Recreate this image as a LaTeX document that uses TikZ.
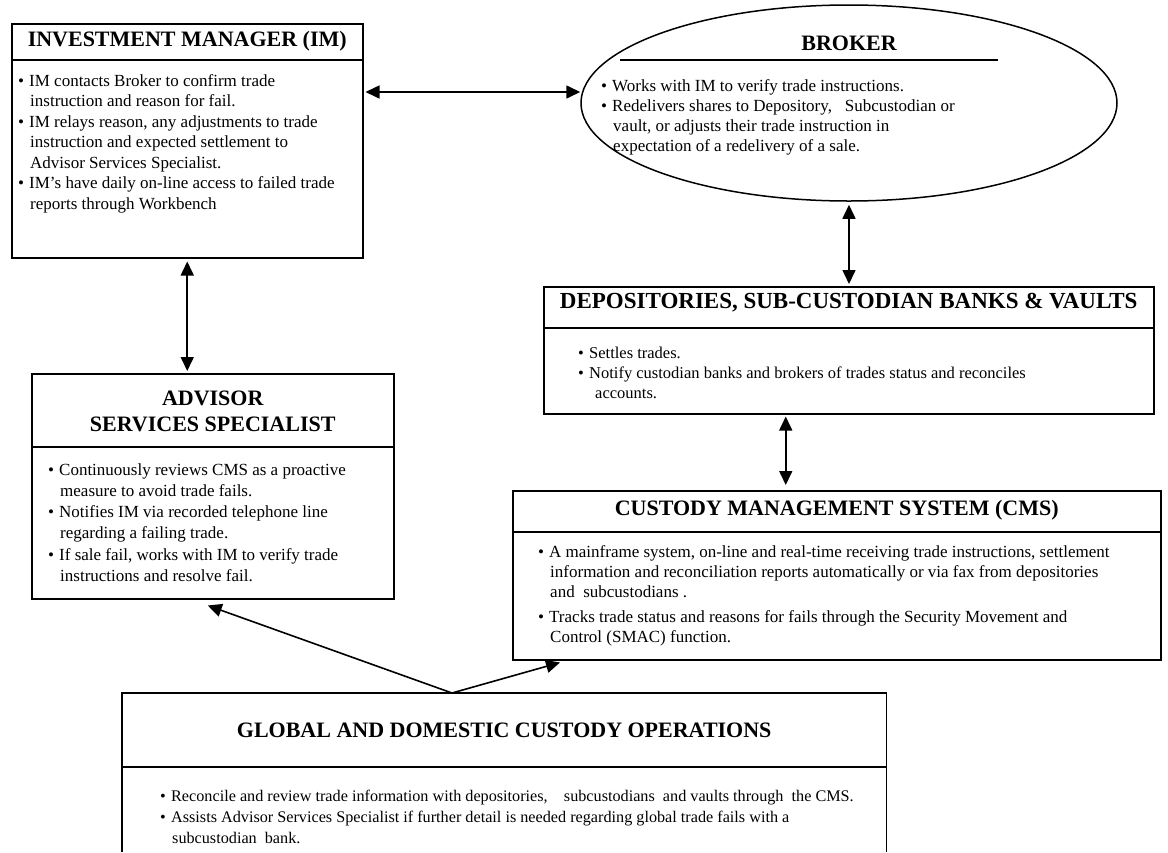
\documentclass[tikz,border=0pt]{standalone}
\usepackage{fontspec}
\setmainfont{Liberation Serif}
\usetikzlibrary{arrows.meta,shapes.geometric,calc}

% bullet followed by its text, and the indent of a continued line
\newcommand{\bl}{\makebox[11pt][l]{\textbullet}}
\newcommand{\cl}{\hspace*{12pt}}

\begin{document}
\begin{tikzpicture}[x=1pt,y=-1pt,
  panel/.style={draw,line width=1.5pt,inner sep=0pt,anchor=north west},
  ttl/.style={font=\bfseries\fontsize{22}{26}\selectfont,inner sep=0pt},
  body/.style={align=left,anchor=north west,inner sep=0pt,font=\fontsize{17}{20.5}\selectfont},
  rule/.style={line width=1.2pt},
  tip/.tip={Triangle[length=14pt,width=13pt]},
  link/.style={line width=1.6pt,tip-tip},
  feed/.style={line width=1.6pt,-tip}]

\useasboundingbox (0,0) rectangle (1168,852);

% ---------- Investment manager ----------
\node[panel,minimum width=351pt,minimum height=234pt] (im) at (11,23) {};
\node[ttl] (imt) at ($(im.north)+(0,18)$) {INVESTMENT MANAGER (IM)};
\draw[rule] ([yshift=-37pt]im.north west) -- ([yshift=-37pt]im.north east);
\node[body] (imb) at ($(im.north west)+(7,51)$) {%
\bl IM contacts Broker to confirm trade\\
\cl instruction and reason for fail.\\
\bl IM relays reason, any adjustments to trade\\
\cl instruction and expected settlement to\\
\cl Advisor Services Specialist.\\
\bl IM's have daily on-line access to failed trade\\
\cl reports through Workbench};

% ---------- Broker ----------
\node[draw,ellipse,line width=1.5pt,inner sep=0pt,minimum width=536pt,minimum height=196pt] (broker) at (849,103) {};
\node[ttl] (brt) at ($(broker.center)+(0,-60)$) {BROKER};
\draw[rule] ($(broker.center)+(-229,-43)$) -- ($(broker.center)+(149,-43)$);
\node[body,font=\fontsize{17}{20}\selectfont] (brb) at ($(broker.center)+(-248,-24)$) {%
\bl Works with IM to verify trade instructions.\\
\bl Redelivers shares to Depository,\ \ \ Subcustodian or\\
\cl vault, or adjusts their trade instruction in\\
\cl expectation of a redelivery of a sale.};

% ---------- Depositories ----------
\node[panel,minimum width=610pt,minimum height=127pt] (dep) at (543,286) {};
\node[ttl,font=\bfseries\fontsize{23}{27}\selectfont] (dept) at ($(dep.north)+(0,17)$) {DEPOSITORIES, SUB-CUSTODIAN BANKS \& VAULTS};
\draw[rule] ([yshift=-42pt]dep.north west) -- ([yshift=-42pt]dep.north east);
\node[body,font=\fontsize{16.5}{20}\selectfont] (depb) at ($(dep.north west)+(35,61)$) {%
\bl Settles trades.\\
\bl Notify custodian banks and brokers of trades status and reconciles\\
\cl\hspace*{5pt}accounts.};

% ---------- Advisor services specialist ----------
\node[panel,minimum width=362pt,minimum height=225pt] (adv) at (31,373) {};
\node[ttl,align=center] (advt) at ($(adv.north)+(0,38)$) {ADVISOR\\SERVICES SPECIALIST};
\draw[rule] ([yshift=-74pt]adv.north west) -- ([yshift=-74pt]adv.north east);
\node[body,font=\fontsize{17}{21.3}\selectfont] (advb) at ($(adv.north west)+(17,90)$) {%
\bl Continuously reviews CMS as a proactive\\
\cl measure to avoid trade fails.\\
\bl Notifies IM via recorded telephone line\\
\cl regarding a failing trade.\\
\bl If sale fail, works with IM to verify trade\\
\cl instructions and resolve fail.};

% ---------- Custody management system ----------
\node[panel,minimum width=648pt,minimum height=169pt] (cms) at (512,490) {};
\node[ttl] (cmst) at ($(cms.north)+(0,20)$) {CUSTODY MANAGEMENT SYSTEM (CMS)};
\draw[rule] ([yshift=-42pt]cms.north west) -- ([yshift=-42pt]cms.north east);
\node[body,font=\fontsize{17}{20}\selectfont] (cmsb) at ($(cms.north west)+(26,55)$) {%
\bl A mainframe system, on-line and real-time receiving trade instructions, settlement\\
\cl information and reconciliation reports automatically or via fax from depositories\\
\cl and\ \ subcustodians .\\[5pt]
\bl Tracks trade status and reasons for fails through the Security Movement and\\
\cl Control (SMAC) function.};

% ---------- Global and domestic custody operations ----------
\node[inner sep=0pt,anchor=north west,minimum width=764pt,minimum height=159pt] (glob) at (122,693) {};
\draw[line width=1.5pt] (glob.south west) -- (glob.north west) -- (glob.north east) -- (glob.south east);
\node[ttl] (globt) at ($(glob.north)+(0,37)$) {GLOBAL AND DOMESTIC CUSTODY OPERATIONS};
\draw[rule] ([yshift=-74pt]glob.north west) -- ([yshift=-74pt]glob.north east);
\node[body,font=\fontsize{16.2}{21}\selectfont] (globb) at ($(glob.north west)+(38,97)$) {%
\bl Reconcile and review trade information with depositories,\ \ \ \ subcustodians\ \ and vaults through\ \ the CMS.\\
\bl Assists Advisor Services Specialist if further detail is needed regarding global trade fails with a\\
\cl subcustodian\ \ bank.};

% ---------- Connectors ----------
\coordinate (imr) at ($(im.north east)+(0,69)$);
\draw[link,shorten <=2pt] (imr) -- (imr -| broker.west);
\draw[link,shorten <=3pt,shorten >=2pt] (broker.south) -- (broker.south |- dep.north);
\draw[link,shorten <=3pt,shorten >=2pt] (im.south) -- (im.south |- adv.north);
\coordinate (dcs) at ($(dep.south)+(-63,0)$);
\draw[link,shorten <=2pt,shorten >=5pt] (dcs) -- (dcs |- cms.north);
\coordinate (apex) at ($(glob.north west)+(330,0)$);
\draw[feed] (apex) -- ($(adv.south)+(-5,6)$);
\draw[feed] (apex) -- ($(cms.south west)+(48,2)$);
\end{tikzpicture}
\end{document}
